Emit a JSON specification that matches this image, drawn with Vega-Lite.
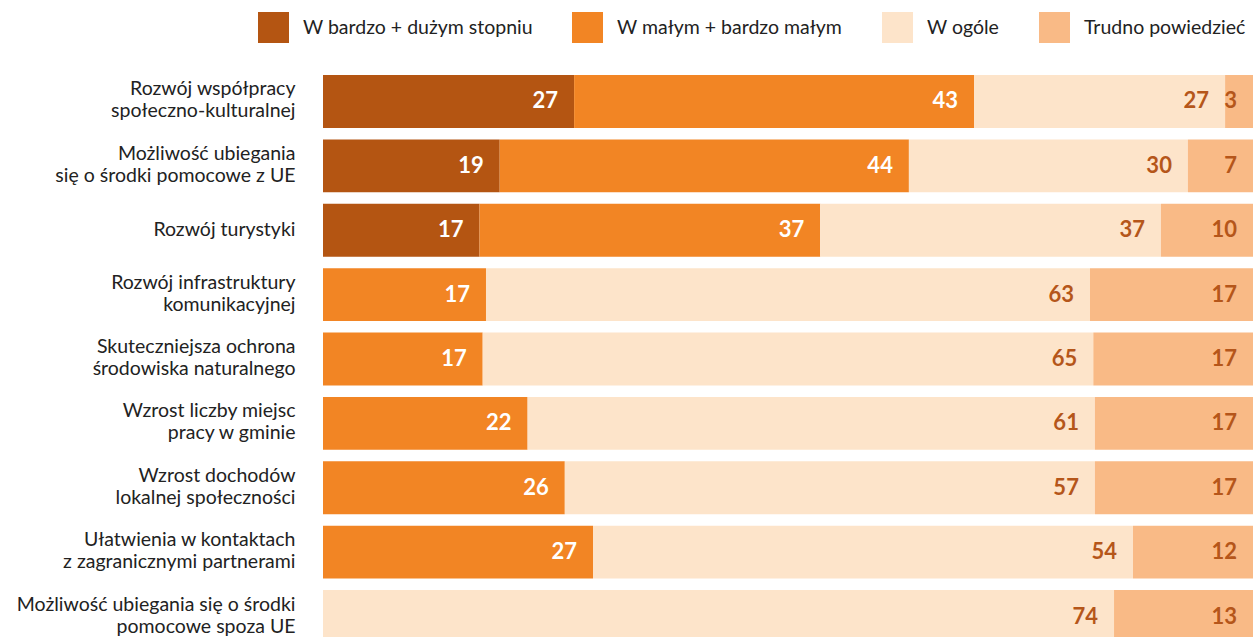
{
  "$schema": "https://vega.github.io/schema/vega-lite/v6.json",
  "width": 930,
  "height": 568,
  "autosize": {"type": "none"},
  "padding": {"left": 323, "top": 75, "right": 0, "bottom": 0},
  "background": "white",
  "config": {"view": {"stroke": null}, "font": "Lato"},
  "data": {"values": [
    {"cat": "Rozwój współpracy|społeczno-kulturalnej", "resp": "W bardzo + dużym stopniu", "k": 1, "v": 27},
    {"cat": "Rozwój współpracy|społeczno-kulturalnej", "resp": "W małym + bardzo małym", "k": 2, "v": 43},
    {"cat": "Rozwój współpracy|społeczno-kulturalnej", "resp": "W ogóle", "k": 3, "v": 27},
    {"cat": "Rozwój współpracy|społeczno-kulturalnej", "resp": "Trudno powiedzieć", "k": 4, "v": 3},
    {"cat": "Możliwość ubiegania|się o środki pomocowe z UE", "resp": "W bardzo + dużym stopniu", "k": 1, "v": 19},
    {"cat": "Możliwość ubiegania|się o środki pomocowe z UE", "resp": "W małym + bardzo małym", "k": 2, "v": 44},
    {"cat": "Możliwość ubiegania|się o środki pomocowe z UE", "resp": "W ogóle", "k": 3, "v": 30},
    {"cat": "Możliwość ubiegania|się o środki pomocowe z UE", "resp": "Trudno powiedzieć", "k": 4, "v": 7},
    {"cat": "Rozwój turystyki", "resp": "W bardzo + dużym stopniu", "k": 1, "v": 17},
    {"cat": "Rozwój turystyki", "resp": "W małym + bardzo małym", "k": 2, "v": 37},
    {"cat": "Rozwój turystyki", "resp": "W ogóle", "k": 3, "v": 37},
    {"cat": "Rozwój turystyki", "resp": "Trudno powiedzieć", "k": 4, "v": 10},
    {"cat": "Rozwój infrastruktury|komunikacyjnej", "resp": "W małym + bardzo małym", "k": 2, "v": 17},
    {"cat": "Rozwój infrastruktury|komunikacyjnej", "resp": "W ogóle", "k": 3, "v": 63},
    {"cat": "Rozwój infrastruktury|komunikacyjnej", "resp": "Trudno powiedzieć", "k": 4, "v": 17},
    {"cat": "Skuteczniejsza ochrona|środowiska naturalnego", "resp": "W małym + bardzo małym", "k": 2, "v": 17},
    {"cat": "Skuteczniejsza ochrona|środowiska naturalnego", "resp": "W ogóle", "k": 3, "v": 65},
    {"cat": "Skuteczniejsza ochrona|środowiska naturalnego", "resp": "Trudno powiedzieć", "k": 4, "v": 17},
    {"cat": "Wzrost liczby miejsc|pracy w gminie", "resp": "W małym + bardzo małym", "k": 2, "v": 22},
    {"cat": "Wzrost liczby miejsc|pracy w gminie", "resp": "W ogóle", "k": 3, "v": 61},
    {"cat": "Wzrost liczby miejsc|pracy w gminie", "resp": "Trudno powiedzieć", "k": 4, "v": 17},
    {"cat": "Wzrost dochodów|lokalnej społeczności", "resp": "W małym + bardzo małym", "k": 2, "v": 26},
    {"cat": "Wzrost dochodów|lokalnej społeczności", "resp": "W ogóle", "k": 3, "v": 57},
    {"cat": "Wzrost dochodów|lokalnej społeczności", "resp": "Trudno powiedzieć", "k": 4, "v": 17},
    {"cat": "Ułatwienia w kontaktach|z zagranicznymi partnerami", "resp": "W małym + bardzo małym", "k": 2, "v": 27},
    {"cat": "Ułatwienia w kontaktach|z zagranicznymi partnerami", "resp": "W ogóle", "k": 3, "v": 54},
    {"cat": "Ułatwienia w kontaktach|z zagranicznymi partnerami", "resp": "Trudno powiedzieć", "k": 4, "v": 12},
    {"cat": "Możliwość ubiegania się o środki|pomocowe spoza UE", "resp": "W ogóle", "k": 3, "v": 74},
    {"cat": "Możliwość ubiegania się o środki|pomocowe spoza UE", "resp": "Trudno powiedzieć", "k": 4, "v": 13}
  ]},
  "transform": [
    {"stack": "v", "groupby": ["cat"], "sort": [{"field": "k", "order": "ascending"}], "offset": "normalize", "as": ["x0", "x1"]}
  ],
  "encoding": {
    "y": {
      "field": "cat", "type": "nominal", "sort": null, "title": null,
      "scale": {"paddingInner": 0.177, "paddingOuter": 0},
      "axis": {
        "labelExpr": "split(datum.label, '|')",
        "domain": false, "ticks": false, "labelPadding": 28,
        "labelFontSize": 19.5, "labelColor": "#222222", "labelFont": "Lato",
        "labelLineHeight": 22, "labelLimit": 400,
        "labelOffset": {"condition": {"test": "indexof(datum.value, '|') >= 0", "value": -12}, "value": 0}
      }
    }
  },
  "layer": [
    {
      "mark": {"type": "bar"},
      "encoding": {
        "x": {"field": "x0", "type": "quantitative", "scale": {"domain": [0, 1], "nice": false, "zero": true}, "axis": null},
        "x2": {"field": "x1"},
        "color": {
          "field": "resp", "type": "nominal",
          "scale": {
            "domain": ["W bardzo + dużym stopniu", "W małym + bardzo małym", "W ogóle", "Trudno powiedzieć"],
            "range": ["#b45512", "#f28524", "#fde4ca", "#f9ba86"]
          },
          "legend": {
            "title": null, "orient": "none", "direction": "horizontal",
            "legendX": -65, "legendY": -63,
            "symbolType": "square", "symbolSize": 961, "symbolStrokeWidth": 0,
            "labelFontSize": 19.5, "labelColor": "#222222", "labelFont": "Lato",
            "labelOffset": 14, "columnPadding": 39, "labelLimit": 400
          }
        }
      }
    },
    {
      "mark": {"type": "text", "align": "right", "baseline": "middle", "dx": -16, "fontSize": 22, "fontWeight": "bold", "font": "Lato"},
      "encoding": {
        "x": {"field": "x1", "type": "quantitative"},
        "text": {"field": "v", "type": "quantitative"},
        "color": {"condition": {"test": "datum.k <= 2", "value": "white"}, "value": "#b5561a"}
      }
    }
  ]
}
